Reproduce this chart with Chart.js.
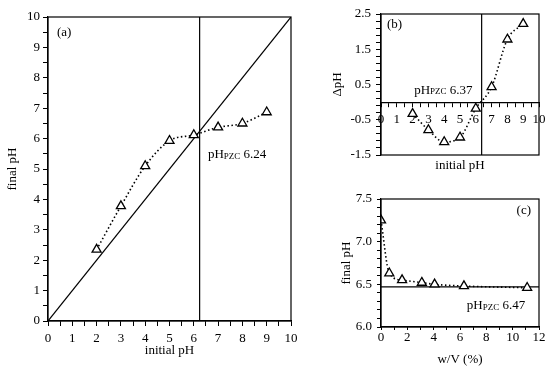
<!DOCTYPE html>
<html lang="en">
<head>
    <meta charset="UTF-8">
    <title>pH drift / point of zero charge</title>
    <script src="https://cdn.jsdelivr.net/npm/chart.js"></script>
    <style>
        body { margin: 0; background: #fff; }
        .panel { position: absolute; }
        #boxA { left: 0; top: 0; width: 300px; height: 372px; }
        #boxB { left: 300px; top: 0; width: 250px; height: 185px; }
        #boxC { left: 300px; top: 185px; width: 250px; height: 187px; }
    </style>
</head>
<body>
    <div class="panel" id="boxA"><canvas id="chartA"></canvas></div>
    <div class="panel" id="boxB"><canvas id="chartB"></canvas></div>
    <div class="panel" id="boxC"><canvas id="chartC"></canvas></div>

    <script>
        // panel (a): final pH vs initial pH
        const initialPh = [2, 3, 4, 5, 6, 7, 8, 9];
        const finalPh = [2.35, 3.78, 5.1, 5.93, 6.12, 6.37, 6.5, 6.87];
        const pzcA = 6.24;
        const aLimits = [0, 10];
        const aLabels = [0, 1, 2, 3, 4, 5, 6, 7, 8, 9, 10];

        // panel (b): delta pH vs initial pH
        const initialPhB = [2, 3, 4, 5, 6, 7, 8, 9];
        const deltaPh = [-0.33, -0.79, -1.13, -1.0, -0.18, 0.43, 1.78, 2.22];
        const pzcB = 6.37;
        const bXLimits = [0, 10];
        const bXLabels = [0, 1, 2, 3, 4, 5, 6, 7, 8, 9, 10];
        const bYLimits = [-1.5, 2.5];
        const bYLabels = [-1.5, -0.5, 0.5, 1.5, 2.5];

        // panel (c): final pH vs w/V
        const wv = [0, 0.63, 1.6, 3.1, 4.07, 6.3, 11.1];
        const finalPhC = [7.25, 6.63, 6.55, 6.52, 6.5, 6.48, 6.46];
        const pzcC = 6.47;
        const cXLimits = [0, 12];
        const cXLabels = [0, 2, 4, 6, 8, 10, 12];
        const cYLimits = [6.0, 7.5];
        const cYLabels = [6.0, 6.5, 7.0, 7.5];

        const FONT = "'Liberation Serif', 'DejaVu Serif', serif";
        const tickFont = { family: FONT, size: 13, lineHeight: 1 };
        const titleFont = { family: FONT, size: 13 };

        function steps(min, max, step) {
            const out = [];
            for (let v = min; v <= max + 1e-9; v += step) out.push(Math.round(v * 1000) / 1000);
            return out;
        }

        function pairs(xs, ys) {
            return xs.map((x, i) => ({ x: x, y: ys[i] }));
        }

        // fixed axis size, and no extra room for labels hanging past the ends
        function fitX(h) {
            return s => { s.height = h; s.paddingLeft = 0; s.paddingRight = 0; };
        }
        function fitY(w) {
            return s => { s.width = w; s.paddingTop = 0; s.paddingBottom = 0; };
        }

        // builds a scale with minor ticks, labels only where listed
        function axis(limits, minorStep, labels, digits, pad, tickLen, opts) {
            return Object.assign({
                type: 'linear',
                min: limits[0],
                max: limits[1],
                afterBuildTicks: s => { s.ticks = steps(limits[0], limits[1], minorStep).map(v => ({ value: v })); },
                ticks: {
                    color: '#000',
                    font: tickFont,
                    padding: pad,
                    maxRotation: 0,
                    autoSkip: false,
                    callback: v => labels.some(l => Math.abs(l - v) < 1e-6) ? v.toFixed(digits) : ''
                },
                grid: { drawOnChartArea: false, drawTicks: true, tickLength: tickLen, color: '#000', lineWidth: 1 },
                border: { color: '#000', width: 1.2 }
            }, opts);
        }

        function title(text, pad) {
            return { display: true, text: text, color: '#000', font: titleFont, padding: pad };
        }

        const series = (data) => ({
            data: data,
            borderColor: '#000',
            borderWidth: 1.6,
            borderDash: [1.5, 2.5],
            cubicInterpolationMode: 'monotone',
            pointStyle: 'triangle',
            pointRadius: 5.2,
            pointBorderWidth: 1.3,
            pointBackgroundColor: '#fff',
            pointBorderColor: '#000'
        });

        const refLine = (data) => ({
            data: data,
            borderColor: '#000',
            borderWidth: 1.2,
            pointRadius: 0,
            tension: 0
        });

        // frame around the plot area + text notes at data coordinates
        const framePlugin = {
            id: 'frame',
            afterDatasetsDraw(chart, args, opts) {
                const { ctx, chartArea: a } = chart;
                ctx.save();
                ctx.strokeStyle = '#000';
                ctx.lineWidth = 1.2;
                ctx.strokeRect(a.left, a.top, a.right - a.left, a.bottom - a.top);

                const xs = chart.scales.x, ys = chart.scales.y;
                (opts.notes || []).forEach(n => {
                    let px = xs.getPixelForValue(n.x);
                    const py = ys.getPixelForValue(n.y);
                    ctx.fillStyle = '#000';
                    ctx.textBaseline = 'middle';
                    ctx.textAlign = 'left';
                    ctx.font = '13px ' + FONT;
                    ctx.fillText(n.text, px, py);
                    px += ctx.measureText(n.text).width;
                    if (n.sub) {
                        ctx.font = '9px ' + FONT;
                        ctx.fillText(n.sub, px, py + 2);
                        px += ctx.measureText(n.sub).width;
                        ctx.font = '13px ' + FONT;
                        ctx.fillText(n.after, px, py);
                    }
                });
                ctx.restore();
            }
        };

        const common = {
            responsive: true,
            maintainAspectRatio: false,
            animation: false
        };

        // (a)
        new Chart(document.getElementById('chartA'), {
            type: 'line',
            data: {
                datasets: [
                    series(pairs(initialPh, finalPh)),
                    refLine(pairs(aLimits, aLimits)),
                    refLine([{ x: pzcA, y: aLimits[0] }, { x: pzcA, y: aLimits[1] }])
                ]
            },
            options: Object.assign({}, common, {
                layout: { padding: { top: 17, right: 9, left: 0, bottom: 0 } },
                scales: {
                    x: axis(aLimits, 0.5, aLabels, 0, 6, 5, {
                        title: title('initial pH', { top: 0, bottom: 14 }),
                        afterFit: fitX(51)
                    }),
                    y: axis(aLimits, 0.5, aLabels, 0, 3, 5, {
                        title: title('final pH', { top: 5, bottom: 0 }),
                        afterFit: fitY(48)
                    })
                },
                plugins: {
                    legend: { display: false },
                    tooltip: { enabled: false },
                    frame: {
                        notes: [
                            { text: '(a)', x: 0.37, y: 9.5 },
                            { text: 'pH', sub: 'PZC', after: ' ' + pzcA.toFixed(2), x: 6.58, y: 5.46 }
                        ]
                    }
                }
            }),
            plugins: [framePlugin]
        });

        // (b)
        new Chart(document.getElementById('chartB'), {
            type: 'line',
            data: {
                datasets: [
                    series(pairs(initialPhB, deltaPh)),
                    refLine([{ x: pzcB, y: bYLimits[0] }, { x: pzcB, y: bYLimits[1] }])
                ]
            },
            options: Object.assign({}, common, {
                layout: { padding: { top: 14, right: 11, left: 0, bottom: 0 } },
                scales: {
                    x: axis(bXLimits, 0.5, bXLabels, 0, 7, 4, {
                        position: { y: 0 },
                        afterFit: s => { s.paddingLeft = 0; s.paddingRight = 0; }
                    }),
                    xb: {
                        type: 'linear',
                        axis: 'x',
                        position: 'bottom',
                        min: bXLimits[0],
                        max: bXLimits[1],
                        ticks: { display: false },
                        grid: { display: false },
                        border: { display: false },
                        title: title('initial pH', { top: 0, bottom: 12 }),
                        afterFit: fitX(30)
                    },
                    y: axis(bYLimits, 0.2, bYLabels, 1, 5, 5, {
                        title: title('\u0394pH', { top: 30, bottom: 0 }),
                        afterFit: fitY(81)
                    })
                },
                plugins: {
                    legend: { display: false },
                    tooltip: { enabled: false },
                    frame: {
                        notes: [
                            { text: '(b)', x: 0.38, y: 2.2 },
                            { text: 'pH', sub: 'PZC', after: ' ' + pzcB.toFixed(2), x: 2.1, y: 0.34 }
                        ]
                    }
                }
            }),
            plugins: [framePlugin]
        });

        // (c)
        new Chart(document.getElementById('chartC'), {
            type: 'line',
            data: {
                datasets: [
                    series(pairs(wv, finalPhC)),
                    refLine([{ x: cXLimits[0], y: pzcC }, { x: cXLimits[1], y: pzcC }])
                ]
            },
            options: Object.assign({}, common, {
                layout: { padding: { top: 14, right: 11, left: 0, bottom: 0 } },
                scales: {
                    x: axis(cXLimits, 1, cXLabels, 0, 1, 3, {
                        title: title('w/V (%)', { top: 0, bottom: 5 }),
                        afterFit: fitX(45)
                    }),
                    y: axis(cYLimits, 0.1, cYLabels, 1, 5, 4, {
                        title: title('final pH', { top: 39, bottom: 0 }),
                        afterFit: fitY(81)
                    })
                },
                plugins: {
                    legend: { display: false },
                    tooltip: { enabled: false },
                    frame: {
                        notes: [
                            { text: '(c)', x: 10.3, y: 7.37 },
                            { text: 'pH', sub: 'PZC', after: ' ' + pzcC.toFixed(2), x: 6.52, y: 6.25 }
                        ]
                    }
                }
            }),
            plugins: [framePlugin]
        });
    </script>
</body>
</html>
